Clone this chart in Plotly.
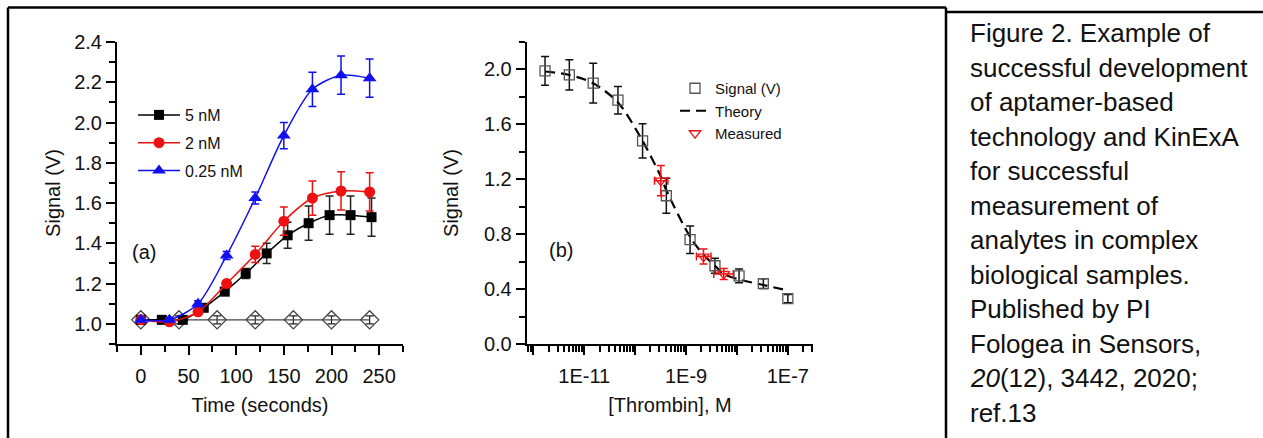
import plotly.graph_objects as go

# ---------------- Panel (a) data ----------------
time_5nM = [0, 22, 44, 66, 88, 110, 132, 154, 176, 198, 220, 242]
sig_5nM = [1.02, 1.02, 1.02, 1.08, 1.16, 1.25, 1.35, 1.44, 1.50, 1.54, 1.54, 1.53]
err_5nM = [0.01, 0.01, 0.01, 0.01, 0.015, 0.025, 0.05, 0.065, 0.085, 0.095, 0.095, 0.095]

time_2nM = [0, 30, 60, 90, 120, 150, 180, 210, 240]
sig_2nM = [1.02, 1.01, 1.06, 1.20, 1.345, 1.51, 1.625, 1.66, 1.655]
err_2nM = [0.01, 0.01, 0.01, 0.015, 0.04, 0.07, 0.085, 0.095, 0.095]

time_025nM = [0, 30, 60, 90, 120, 150, 180, 210, 240]
sig_025nM = [1.02, 1.02, 1.10, 1.34, 1.625, 1.935, 2.165, 2.235, 2.22]
err_025nM = [0.01, 0.01, 0.015, 0.02, 0.03, 0.065, 0.085, 0.095, 0.095]

time_ctrl = [0, 40, 80, 120, 160, 200, 240]
sig_ctrl = [1.02, 1.02, 1.02, 1.02, 1.02, 1.02, 1.02]
err_ctrl = [0.02, 0.02, 0.02, 0.02, 0.02, 0.02, 0.02]

a_xticks = [0, 50, 100, 150, 200, 250]
a_yticks = [1.0, 1.2, 1.4, 1.6, 1.8, 2.0, 2.2, 2.4]

# ---------------- Panel (b) data ----------------
thrombin_M = [1.7e-12, 5.1e-12, 1.5e-11, 4.6e-11, 1.4e-10, 4.1e-10, 1.2e-9, 3.7e-9, 1.1e-8, 3.3e-8, 1.0e-7]
signal_V = [1.99, 1.96, 1.90, 1.776, 1.48, 1.08, 0.76, 0.57, 0.497, 0.44, 0.33]
signal_err = [0.105, 0.11, 0.145, 0.10, 0.125, 0.127, 0.10, 0.055, 0.05, 0.035, 0.03]

theory_M = [1.7e-12, 5.1e-12, 1.5e-11, 4.6e-11, 1.4e-10, 3.2e-10, 4.1e-10, 1.2e-9, 2.2e-9, 3.7e-9, 5.5e-9, 1.1e-8, 3.3e-8, 1.0e-7]
theory_V = [1.985, 1.96, 1.90, 1.76, 1.48, 1.22, 1.12, 0.78, 0.65, 0.57, 0.51, 0.47, 0.43, 0.39]

measured_M = [3.2e-10, 2.2e-9, 5.5e-9]
measured_V = [1.19, 0.637, 0.51]
measured_yerr = [0.11, 0.055, 0.04]
measured_xerr_plus = [1.2e-10, 0.9e-9, 3.0e-9]
measured_xerr_minus = [0.8e-10, 0.6e-9, 2.0e-9]

b_xticks = [1e-12, 1e-11, 1e-10, 1e-9, 1e-8, 1e-7]
b_xticktext = ["", "1E-11", "", "1E-9", "", "1E-7"]
b_xminor = [k * 10.0 ** n for n in range(-13, -6) for k in range(2, 10)]
b_yticks = [0.0, 0.4, 0.8, 1.2, 1.6, 2.0]

caption_lines = [
    "Figure 2. Example of",
    "successful development",
    "of aptamer-based",
    "technology and KinExA",
    "for successful",
    "measurement of",
    "analytes in complex",
    "biological samples.",
    "Published by PI",
    "Fologea in Sensors,",
    "<i>20</i>(12), 3442, 2020;",
    "ref.13",
]

# ---------------- layout constants ----------------
W, H = 1263, 438
FONT = "Liberation Sans, Arial, sans-serif"
BLUE = "#1010f0"
RED = "#ee1111"


def px_x(p):
    return p / W


def px_y(p):
    return 1 - p / H


fig = go.Figure()

# ---- panel (a) traces ----
fig.add_trace(go.Scatter(
    x=time_ctrl, y=sig_ctrl, mode="lines+markers", xaxis="x", yaxis="y",
    line=dict(color="#444444", width=1.3),
    marker=dict(symbol="diamond-open", size=14, color="#444444", line=dict(width=1.3)),
    error_y=dict(type="data", array=err_ctrl, color="#222222", thickness=1.2, width=4),
    showlegend=False, hoverinfo="skip"))

series_a = [
    (time_5nM, sig_5nM, err_5nM, "black", "square", 10, "5 nM", "#222222"),
    (time_2nM, sig_2nM, err_2nM, RED, "circle", 11, "2 nM", RED),
    (time_025nM, sig_025nM, err_025nM, BLUE, "triangle-up", 12, "0.25 nM", BLUE),
]
for tx, sy, ey, col, sym, sz, name, ecol in series_a:
    fig.add_trace(go.Scatter(
        x=tx, y=sy, mode="lines+markers", xaxis="x", yaxis="y",
        line=dict(color=col, width=1.5, shape="spline", smoothing=0.8),
        marker=dict(symbol=sym, size=sz, color=col),
        error_y=dict(type="data", array=ey, color=ecol, thickness=1.5, width=4),
        showlegend=False, name=name))
    fig.add_trace(go.Scatter(
        x=[None], y=[None], mode="lines+markers", xaxis="x", yaxis="y",
        line=dict(color=col, width=1.5),
        marker=dict(symbol=sym, size=sz, color=col),
        name=name, legend="legend", legendgroup=name))

# ---- panel (b) traces ----
fig.add_trace(go.Scatter(
    x=theory_M, y=theory_V, mode="lines", xaxis="x2", yaxis="y2",
    line=dict(color="black", width=2.2, dash="10px,6px", shape="spline", smoothing=0.8),
    showlegend=False))
fig.add_trace(go.Scatter(
    x=thrombin_M, y=signal_V, mode="markers", xaxis="x2", yaxis="y2",
    marker=dict(symbol="square-open", size=10, color="#555555", line=dict(width=1.3)),
    error_y=dict(type="data", array=signal_err, color="#111111", thickness=1.5, width=4),
    showlegend=False))
fig.add_trace(go.Scatter(
    x=measured_M, y=measured_V, mode="markers", xaxis="x2", yaxis="y2",
    marker=dict(symbol="triangle-down-open", size=10, color=RED, line=dict(width=1.3)),
    error_y=dict(type="data", array=measured_yerr, color=RED, thickness=1.5, width=4),
    error_x=dict(type="data", array=measured_xerr_plus, arrayminus=measured_xerr_minus,
                 color=RED, thickness=1.5, width=4),
    showlegend=False))
# legend entries for (b)
fig.add_trace(go.Scatter(x=[None], y=[None], mode="markers", xaxis="x2", yaxis="y2",
                         marker=dict(symbol="square-open", size=10, color="#555555", line=dict(width=1.3)),
                         name="Signal (V)", legend="legend2"))
fig.add_trace(go.Scatter(x=[None], y=[None], mode="lines", xaxis="x2", yaxis="y2",
                         line=dict(color="black", width=2.2, dash="10px,6px"),
                         name="Theory", legend="legend2"))
fig.add_trace(go.Scatter(x=[None], y=[None], mode="markers", xaxis="x2", yaxis="y2",
                         marker=dict(symbol="triangle-down-open", size=10, color=RED, line=dict(width=1.3)),
                         name="Measured", legend="legend2"))

axis_common = dict(showline=True, linecolor="black", linewidth=2, ticks="outside",
                   ticklen=9, tickwidth=2, tickcolor="black", showgrid=False, zeroline=False,
                   mirror=False, automargin=False,
                   tickfont=dict(family=FONT, size=20, color="#111111"))

dom_y = [px_y(344), px_y(42)]
title_font = dict(family=FONT, size=20, color="#111111")

fig.update_layout(
    width=W, height=H, margin=dict(l=0, r=0, t=0, b=0, pad=0, autoexpand=False),
    paper_bgcolor="white", plot_bgcolor="white",
    font=dict(family=FONT, color="#111111"),
    xaxis=dict(axis_common, domain=[px_x(117), px_x(403)], anchor="y", range=[-25, 275],
               tickvals=a_xticks, ticklabelstandoff=4,
               minor=dict(dtick=25, tick0=0, ticks="outside", ticklen=6, tickwidth=2, tickcolor="black"),
               title=dict(text="Time (seconds)", font=title_font, standoff=12)),
    yaxis=dict(axis_common, domain=dom_y, anchor="x", range=[0.9, 2.4],
               tickvals=a_yticks, tickformat=".1f",
               minor=dict(dtick=0.1, tick0=0, ticks="outside", ticklen=6, tickwidth=2, tickcolor="black"),
               title=dict(text="Signal (V)", font=title_font, standoff=8)),
    xaxis2=dict(axis_common, domain=[px_x(526.7), px_x(813.3)], anchor="y2", type="log",
                range=[-12.13, -6.5], tickvals=b_xticks, ticktext=b_xticktext, ticklabelstandoff=4,
                minor=dict(tickvals=b_xminor, ticks="outside", ticklen=6, tickwidth=1.5, tickcolor="black"),
                title=dict(text="[Thrombin], M", font=title_font, standoff=12)),
    yaxis2=dict(axis_common, domain=dom_y, anchor="x2", range=[0, 2.2],
                tickvals=b_yticks, tickformat=".1f",
                minor=dict(dtick=0.2, tick0=0, ticks="outside", ticklen=6, tickwidth=2, tickcolor="black"),
                title=dict(text="Signal (V)", font=title_font, standoff=20)),
    legend=dict(x=px_x(133), y=px_y(98), xanchor="left", yanchor="top",
                bgcolor="rgba(0,0,0,0)", font=dict(family=FONT, size=16), itemwidth=42,
                tracegroupgap=4),
    legend2=dict(x=px_x(675), y=px_y(72), xanchor="left", yanchor="top",
                 bgcolor="rgba(0,0,0,0)", font=dict(family=FONT, size=15), itemwidth=30,
                 tracegroupgap=0),
)

# panel labels
fig.add_annotation(x=px_x(144), y=px_y(252), xref="paper", yref="paper", text="(a)",
                   showarrow=False, xanchor="center", yanchor="middle", font=dict(family=FONT, size=20))
fig.add_annotation(x=px_x(561), y=px_y(250), xref="paper", yref="paper", text="(b)",
                   showarrow=False, xanchor="center", yanchor="middle", font=dict(family=FONT, size=20))

# caption
for i, line in enumerate(caption_lines):
    fig.add_annotation(x=px_x(968), y=px_y(33 + 34.5 * i), xref="paper", yref="paper",
                       text=line, showarrow=False, xanchor="left", yanchor="middle",
                       font=dict(family=FONT, size=26, color="#111111"))

# frame borders
border = dict(color="black", width=2.5)
fig.add_shape(type="line", xref="paper", yref="paper", x0=px_x(8), x1=px_x(8), y0=px_y(7.5), y1=0, line=border)
fig.add_shape(type="line", xref="paper", yref="paper", x0=px_x(8), x1=px_x(946), y0=px_y(7.5), y1=px_y(7.5), line=border)
fig.add_shape(type="line", xref="paper", yref="paper", x0=px_x(946), x1=px_x(946), y0=px_y(7.5), y1=0, line=border)
fig.add_shape(type="line", xref="paper", yref="paper", x0=px_x(946), x1=1, y0=px_y(12), y1=px_y(12), line=border)

fig.write_html("out.html", config={"displayModeBar": False},
               post_script="document.body.style.margin='0px';")
